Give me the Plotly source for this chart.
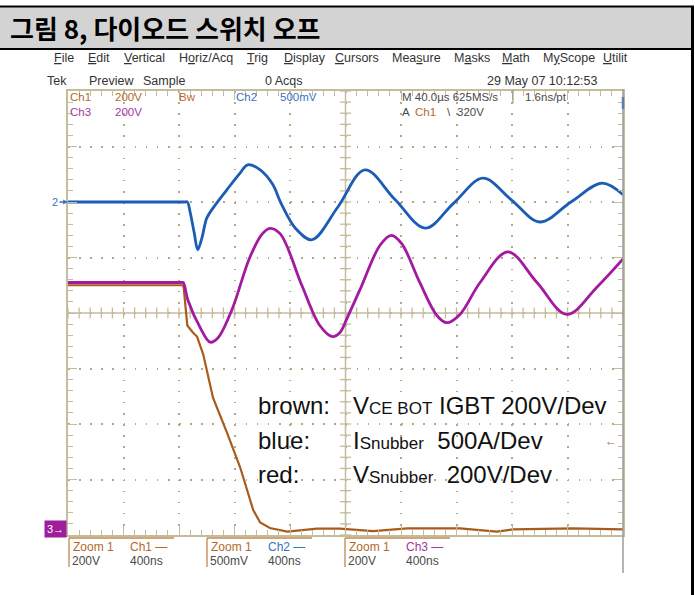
import numpy as np
import plotly.graph_objects as go

# ---------------------------------------------------------------------------
# Acquisition (Zoom 1: 400 ns/div over 10 horizontal divisions)
# ---------------------------------------------------------------------------
TIME_PER_DIV = 400          # ns
N_HDIV, N_VDIV = 10, 8

# Ch1 - V_CE of the bottom IGBT (brown), 200 V/div
ch1_time_ns = [0, 830, 835, 860, 900, 930, 975, 1045, 1145, 1240, 1335, 1385,
               1455, 1580, 1795, 1960, 2200, 2445, 2825, 3090, 3205, 3640, 4000]
ch1_volts = [880, 880, 865, 735, 710, 695, 630, 475, 350, 225, 70, 25,
             5, -8, 3, 3, -6, 4, 4, -8, 0, 4, 0]

# Ch2 - snubber current (blue), 500 A/div
ch2_time_ns = [0, 200, 400, 600, 800, 840, 860, 880, 910, 935, 965, 1000, 1045,
               1145, 1240, 1295, 1385, 1475, 1535, 1645, 1760, 1945, 2140, 2355,
               2575, 2780, 2990, 3195, 3400, 3625, 3850, 4000]
ch2_amps = [0, 0, 0, 0, 0, 0, 0, -90, -280, -430, -325, -145, -55,
            110, 260, 335, 290, 160, -10, -245, -340, -45, 290, 25,
            -235, -10, 215, 20, -180, 0, 170, 65]

# Ch3 - snubber voltage (magenta), 200 V/div
ch3_time_ns = [0, 200, 400, 600, 780, 815, 830, 865, 950, 1025, 1080, 1180, 1310,
               1400, 1455, 1530, 1685, 1815, 1905, 1960, 2010, 2105, 2250, 2330,
               2405, 2535, 2660, 2730, 2825, 2970, 3170, 3380, 3595, 3815, 4000]
ch3_volts = [890, 890, 890, 890, 890, 890, 890, 825, 730, 675, 690, 790, 980,
             1065, 1085, 1065, 880, 735, 695, 710, 760, 865, 1025, 1060,
             1030, 890, 770, 745, 775, 890, 1000, 890, 775, 875, 975]

# Vertical settings: (volts or amps per division, position in divisions)
CH1_SCALE, CH1_POS = 200, -3.9
CH2_SCALE, CH2_POS = 500, 2.0
CH3_SCALE, CH3_POS = 200, -3.9
TRIGGER_LEVEL = 320         # V on Ch1, falling edge

# Colours
BROWN = "#a95b1c"
BLUE = "#1b5cb6"
MAGENTA = "#a3199f"
BROWN_TXT = "#b3692b"
BLUE_TXT = "#3573c4"
MAGENTA_TXT = "#a534a5"
GRAT = "#c4bd9c"
GRAT_DOT = "#b3ab88"
GRAY_TXT = "#4a4a4a"

SCOPE_FONT = "Liberation Sans Narrow, Liberation Sans, Arial, sans-serif"
BODY_FONT = "Liberation Sans, Arial, sans-serif"

# ---------------------------------------------------------------------------
# Page geometry (pixels) and helpers for paper coordinates
# ---------------------------------------------------------------------------
W, H = 695, 595
ML, MR, MT, MB = 68, 72, 91, 60
PW, PH = W - ML - MR, H - MT - MB


def fx(px):
    return (px - ML) / PW


def fy(py):
    return (H - MB - py) / PH


def to_div(values, scale, pos):
    return [v / scale + pos for v in values]


fig = go.Figure()

# graticule crosshair ticks (every 1/5 division)
x_minor = np.arange(0, N_HDIV * TIME_PER_DIV + 1, TIME_PER_DIV / 5)
y_minor = np.arange(-N_VDIV / 2, N_VDIV / 2 + 0.01, 0.2)
fig.add_trace(go.Scatter(x=x_minor, y=np.zeros_like(x_minor), mode="markers",
                         marker=dict(symbol="line-ns", size=8,
                                     line=dict(color=GRAT, width=1.3)),
                         hoverinfo="skip"))
fig.add_trace(go.Scatter(x=np.full_like(y_minor, N_HDIV * TIME_PER_DIV / 2), y=y_minor,
                         mode="markers",
                         marker=dict(symbol="line-ew", size=8,
                                     line=dict(color=GRAT, width=1.3)),
                         hoverinfo="skip"))

# waveforms
fig.add_trace(go.Scatter(x=ch1_time_ns, y=to_div(ch1_volts, CH1_SCALE, CH1_POS),
                         mode="lines", line=dict(color=BROWN, width=2.2),
                         name="Ch1"))
fig.add_trace(go.Scatter(x=ch3_time_ns, y=to_div(ch3_volts, CH3_SCALE, CH3_POS),
                         mode="lines", line=dict(color=MAGENTA, width=2.8, shape="spline"),
                         name="Ch3"))
fig.add_trace(go.Scatter(x=ch2_time_ns, y=to_div(ch2_amps, CH2_SCALE, CH2_POS),
                         mode="lines", line=dict(color=BLUE, width=2.8, shape="spline"),
                         name="Ch2"))

axis_common = dict(showticklabels=False, zeroline=False,
                   showgrid=True, gridcolor=GRAT_DOT, gridwidth=1.5,
                   griddash="1.6px,9.5px",
                   showline=True, linecolor=GRAT, linewidth=1.5, mirror="ticks",
                   ticks="inside", ticklen=9, tickcolor=GRAT, tickwidth=1.2)
fig.update_xaxes(range=[0, N_HDIV * TIME_PER_DIV], dtick=TIME_PER_DIV, tick0=0,
                 minor=dict(dtick=TIME_PER_DIV / 5, ticks="inside", ticklen=5,
                            tickcolor=GRAT, tickwidth=1.2, showgrid=False),
                 **axis_common)
fig.update_yaxes(range=[-N_VDIV / 2, N_VDIV / 2], dtick=1, tick0=0,
                 minor=dict(dtick=0.2, ticks="inside", ticklen=5,
                            tickcolor=GRAT, tickwidth=1.2, showgrid=False),
                 **axis_common)

shapes = []
# solid centre lines
shapes.append(dict(type="line", xref="x", yref="y", x0=N_HDIV * TIME_PER_DIV / 2,
                   x1=N_HDIV * TIME_PER_DIV / 2, y0=-N_VDIV / 2, y1=N_VDIV / 2,
                   line=dict(color=GRAT, width=1.5), layer="between"))
shapes.append(dict(type="line", xref="x", yref="y", x0=0, x1=N_HDIV * TIME_PER_DIV,
                   y0=0, y1=0, line=dict(color=GRAT, width=1.5), layer="between"))

# page frame: grey caption band with black rules
shapes.append(dict(type="rect", xref="paper", yref="paper", x0=fx(0), x1=fx(691),
                   y0=fy(48), y1=fy(7), fillcolor="#d3d3d3", line=dict(width=0),
                   layer="below"))
shapes.append(dict(type="line", xref="paper", yref="paper", x0=fx(0), x1=fx(694),
                   y0=fy(6.5), y1=fy(6.5), line=dict(color="black", width=2)))
shapes.append(dict(type="line", xref="paper", yref="paper", x0=fx(0), x1=fx(694),
                   y0=fy(49), y1=fy(49), line=dict(color="black", width=2)))
shapes.append(dict(type="line", xref="paper", yref="paper", x0=fx(692.5), x1=fx(692.5),
                   y0=fy(6), y1=fy(595), line=dict(color="black", width=3)))

# right edge of the scope screen
shapes.append(dict(type="line", xref="paper", yref="paper", x0=fx(623), x1=fx(623),
                   y0=fy(89), y1=fy(573), line=dict(color="#9c9c9c", width=1.5)))
shapes.append(dict(type="line", xref="paper", yref="paper", x0=fx(623), x1=fx(623),
                   y0=fy(97), y1=fy(109), line=dict(color="#5a7fa8", width=2.5)))
shapes.append(dict(type="line", xref="paper", yref="paper", x0=fx(513), x1=fx(513),
                   y0=fy(90), y1=fy(103), line=dict(color="#8a8a8a", width=1)))

# zoom readout brackets
for x0 in (69, 207, 345):
    shapes.append(dict(type="line", xref="paper", yref="paper", x0=fx(x0), x1=fx(x0 + 105),
                       y0=fy(538), y1=fy(538), line=dict(color="#c0884e", width=1.3)))
    shapes.append(dict(type="line", xref="paper", yref="paper", x0=fx(x0), x1=fx(x0),
                       y0=fy(538), y1=fy(567), line=dict(color="#c0884e", width=1.3)))

annotations = []


def label(text, px, py, color=GRAY_TXT, size=11.5, family=SCOPE_FONT, xanchor="left"):
    annotations.append(dict(text=text, x=fx(px), y=fy(py), xref="paper", yref="paper",
                            xanchor=xanchor, yanchor="middle", showarrow=False,
                            font=dict(family=family, size=size, color=color)))


# caption
label("<b>그림 8, 다이오드 스위치 오프</b>", 8, 27.5, color="black", size=26,
      family="Noto Sans CJK KR, sans-serif")

# menu bar
menu = [("<u>F</u>ile", 52), ("<u>E</u>dit", 86), ("<u>V</u>ertical", 122),
        ("H<u>o</u>riz/Acq", 177), ("<u>T</u>rig", 245), ("<u>D</u>isplay", 282),
        ("<u>C</u>ursors", 333), ("Mea<u>s</u>ure", 390), ("M<u>a</u>sks", 452),
        ("<u>M</u>ath", 500), ("M<u>y</u>Scope", 541), ("<u>U</u>tilit", 601)]
for txt, px in menu:
    label(txt, px, 58, color="#333333", size=12.5)

# status line
for txt, px in [("Tek", 45), ("Preview", 87), ("Sample", 141), ("0 Acqs", 263),
                ("29 May 07 10:12:53", 485)]:
    label(txt, px, 81, color="#333333", size=12.5)

# channel / timebase readouts inside the graticule
label("Ch1", 68, 97, BROWN_TXT)
label("200V", 113, 97, BROWN_TXT)
label("Bw", 177, 97, BROWN_TXT)
label("Ch2", 234, 97, BLUE_TXT)
label("500mV", 278, 97, BLUE_TXT)
label("Ch3", 68, 112, MAGENTA_TXT)
label("200V", 113, 112, MAGENTA_TXT)
label("M 40.0µs 625MS/s", 400, 97)
label("1.6ns/pt", 523, 97)
label("A", 400, 112)
label("Ch1", 413, 112, BROWN_TXT)
label("\\", 445, 112)
label("320V", 455, 112)

# zoom readouts below the graticule
for x0, ch, vdiv, col in ((69, "Ch1 —", "200V", BROWN_TXT),
                          (207, "Ch2 —", "500mV", BLUE_TXT),
                          (345, "Ch3 —", "200V", MAGENTA_TXT)):
    label("Zoom 1", x0 + 2, 547, BROWN_TXT, size=12)
    label(ch, x0 + 59, 547, col, size=12)
    label(vdiv, x0 + 1, 561, GRAY_TXT, size=12)
    label("400ns", x0 + 59, 561, GRAY_TXT, size=12)

# legend text drawn on the screen
SMALL = "<span style='font-size:17px'>{}</span>"
label("brown:", 256, 405, "#111111", 24, BODY_FONT)
label("blue:", 256, 440, "#111111", 24, BODY_FONT)
label("red:", 256, 474, "#111111", 24, BODY_FONT)
label("V" + SMALL.format("CE BOT") + " IGBT 200V/Dev", 351, 405, "#111111", 24, BODY_FONT)
label("I" + SMALL.format("Snubber") + "\u00a0 500A/Dev", 351, 440, "#111111", 24, BODY_FONT)
label("V" + SMALL.format("Snubber") + "\u00a0 200V/Dev", 351, 474, "#111111", 24, BODY_FONT)

# channel ground markers and trigger level marker
annotations.append(dict(text="2", x=fx(68), y=CH2_POS, xref="paper", yref="y",
                        showarrow=True, ax=-13, ay=0, arrowhead=2, arrowsize=0.7,
                        arrowwidth=1.4, arrowcolor=BLUE_TXT,
                        font=dict(family=SCOPE_FONT, size=11, color=BLUE_TXT)))
annotations.append(dict(text="3→", x=fx(67), y=CH3_POS, xref="paper", yref="y",
                        xanchor="right", yanchor="middle", showarrow=False,
                        bgcolor="#9e1e9c", borderpad=2,
                        font=dict(family=SCOPE_FONT, size=11, color="white")))
annotations.append(dict(text="←", x=fx(603), y=TRIGGER_LEVEL / CH1_SCALE + CH1_POS,
                        xref="paper", yref="y", xanchor="left", yanchor="middle",
                        showarrow=False,
                        font=dict(family=SCOPE_FONT, size=12, color=BROWN_TXT)))

fig.update_layout(width=W, height=H, margin=dict(l=ML, r=MR, t=MT, b=MB),
                  paper_bgcolor="white", plot_bgcolor="white", showlegend=False,
                  shapes=shapes, annotations=annotations)

fig.write_html("out.html")
